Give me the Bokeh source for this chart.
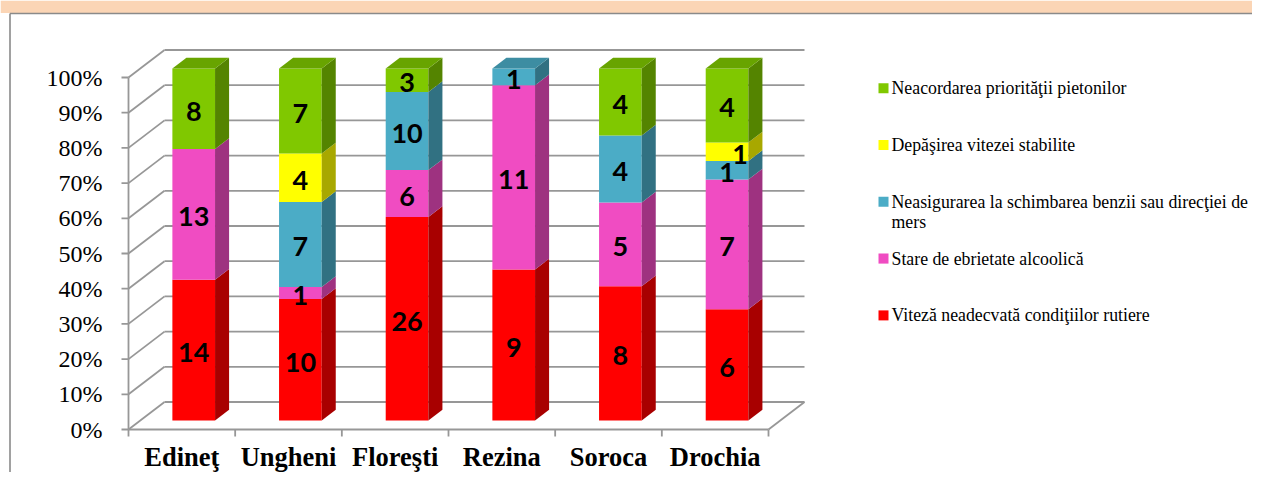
import textwrap
from bokeh.plotting import figure
from bokeh.models import Range1d, ColumnDataSource
from bokeh.core.properties import value
from bokeh.embed import file_html
from bokeh.resources import INLINE

# ---------------- data ----------------
categories = ["Edineţ", "Ungheni", "Floreşti", "Rezina", "Soroca", "Drochia"]
series_names = [
    "Viteză neadecvată condiţiilor rutiere",
    "Stare de ebrietate alcoolică",
    "Neasigurarea la schimbarea benzii sau direcţiei de mers",
    "Depăşirea vitezei stabilite",
    "Neacordarea priorităţii pietonilor",
]
viteza = [14, 10, 26, 9, 8, 6]
ebrietate = [13, 1, 6, 11, 5, 7]
neasigurare = [0, 7, 10, 1, 4, 1]
depasire = [0, 4, 0, 0, 0, 1]
pietoni = [8, 7, 3, 0, 4, 4]
y_ticks = [0, 10, 20, 30, 40, 50, 60, 70, 80, 90, 100]
tick_labels = [f"{t}%" for t in y_ticks]

series_values = [viteza, ebrietate, neasigurare, depasire, pietoni]
series_colors = ["#FF0000", "#F04CC2", "#4BACC6", "#FFFF00", "#80C800"]

# ---------------- layout / style constants ----------------
FIG_W, FIG_H = 1252, 472
X0_PX, PX_PER_CAT = 128.0, 640.0 / 6
Y0_PX, PX_PER_PCT = 429.0, 3.52
SERIF = value("Liberation Serif, 'Times New Roman', Tinos, 'DejaVu Serif', serif")


def px_x(X):
    return (X - X0_PX) / PX_PER_CAT


def px_y(Y):
    return (Y0_PX - Y) / PX_PER_PCT


DX = 36.0 / PX_PER_CAT      # full depth offset in category units
DY = 27.5 / PX_PER_PCT      # full depth offset in percent units
F0, F1 = 0.33, 0.72         # bar front / back depth fractions
BW = 0.40                   # bar width (category units)
GRID = "#979797"
GRID_W = 1.8


def shade(hexcol, k):
    h = hexcol.lstrip("#")
    r, g, b = (int(h[i:i + 2], 16) for i in (0, 2, 4))
    return "#%02x%02x%02x" % (int(r * k), int(g * k), int(b * k))


p = figure(width=FIG_W, height=FIG_H, output_backend="svg", toolbar_location=None,
           x_range=Range1d(px_x(0), px_x(FIG_W)),
           y_range=Range1d(px_y(FIG_H), px_y(0)),
           x_axis_location=None, y_axis_location=None, min_border=0)
p.min_border_left = p.min_border_right = p.min_border_top = p.min_border_bottom = 0
p.grid.visible = False
p.outline_line_color = None
p.background_fill_color = "white"
p.border_fill_color = "white"

# banner and outer box
p.quad(left=[px_x(0)], right=[px_x(FIG_W)], bottom=[px_y(12.5)], top=[px_y(0)],
       fill_color="#FBD5B5", line_color=None)
p.segment(x0=[px_x(9.5), px_x(9.5)], y0=[px_y(13), px_y(13)],
          x1=[px_x(FIG_W), px_x(9.5)], y1=[px_y(13), px_y(FIG_H)],
          line_color="#8A8A8A", line_width=1.6)

ncat = len(categories)
# walls
p.segment(x0=[0] * len(y_ticks), y0=y_ticks,
          x1=[DX] * len(y_ticks), y1=[t + DY for t in y_ticks],
          line_color=GRID, line_width=GRID_W)
p.segment(x0=[DX] * len(y_ticks), y0=[t + DY for t in y_ticks],
          x1=[ncat + DX] * len(y_ticks), y1=[t + DY for t in y_ticks],
          line_color=GRID, line_width=GRID_W)
# floor right edge, front axes
p.segment(x0=[ncat, 0, 0], y0=[0, 0, 0], x1=[ncat + DX, ncat, 0], y1=[DY, 0, y_ticks[-1]],
          line_color=GRID, line_width=GRID_W)
# ticks
tick_len_x = 7.0 / PX_PER_CAT
tick_len_y = 7.0 / PX_PER_PCT
p.segment(x0=[-tick_len_x] * len(y_ticks), y0=y_ticks, x1=[0] * len(y_ticks), y1=y_ticks,
          line_color=GRID, line_width=GRID_W)
bounds = list(range(ncat + 1))
p.segment(x0=bounds, y0=[0] * len(bounds), x1=bounds, y1=[-tick_len_y] * len(bounds),
          line_color=GRID, line_width=GRID_W)

# bars
front = dict(left=[], right=[], bottom=[], top=[], color=[])
sides = dict(xs=[], ys=[], color=[])
tops = dict(xs=[], ys=[], color=[])
labels = dict(x=[], y=[], text=[], xo=[])
LABEL_NUDGE = {(3, 5): 13}
for i in range(ncat):
    total = sum(s[i] for s in series_values)
    cum = 0
    last = None
    for k, s in enumerate(series_values):
        v = s[i]
        if v == 0:
            continue
        b = cum / total * 100
        t = (cum + v) / total * 100
        cum += v
        l0 = i + 0.5 - BW / 2 + F0 * DX
        r0 = l0 + BW
        r1 = r0 + (F1 - F0) * DX
        front["left"].append(l0)
        front["right"].append(r0)
        front["bottom"].append(b + F0 * DY)
        front["top"].append(t + F0 * DY)
        front["color"].append(series_colors[k])
        sides["xs"].append([r0, r1, r1, r0])
        sides["ys"].append([b + F0 * DY, b + F1 * DY, t + F1 * DY, t + F0 * DY])
        sides["color"].append(shade(series_colors[k], 0.66))
        labels["x"].append((l0 + r0) / 2)
        labels["y"].append((b + t) / 2 + F0 * DY)
        labels["text"].append(str(v))
        labels["xo"].append(LABEL_NUDGE.get((k, i), 0))
        last = (k, l0, r0, r1, t)
    k, l0, r0, r1, t = last
    l1 = l0 + (F1 - F0) * DX
    tops["xs"].append([l0, r0, r1, l1])
    tops["ys"].append([t + F0 * DY, t + F0 * DY, t + F1 * DY, t + F1 * DY])
    tops["color"].append(shade(series_colors[k], 0.82))

p.quad(source=ColumnDataSource(front), left="left", right="right", bottom="bottom", top="top",
       fill_color="color", line_color=None)
p.patches(source=ColumnDataSource(sides), xs="xs", ys="ys", fill_color="color", line_color=None)
p.patches(source=ColumnDataSource(tops), xs="xs", ys="ys", fill_color="color", line_color=None)

p.text(source=ColumnDataSource(labels), x="x", y="y", text="text", x_offset="xo",
       y_offset=2.5, text_align="center", text_baseline="middle",
       text_font=value("Lato"), text_font_style="bold", text_font_size="27px",
       text_color="black")

# y tick labels
p.text(x=[px_x(102)] * len(y_ticks), y=y_ticks, text=tick_labels,
       text_align="right", text_baseline="middle", text_font=SERIF,
       text_font_size="24px", text_color="black")
# category labels
p.text(x=[i + 0.5 for i in range(ncat)], y=[px_y(456.0)] * ncat, text=categories,
       text_align="center", text_baseline="middle", text_font=SERIF,
       text_font_style="bold", text_font_size="26.5px", text_color="black")

# legend (top to bottom: reverse stack order)
leg_mx, leg_tx = px_x(883), px_x(891)
leg = dict(x=[], y=[], color=[])
leg_txt = dict(x=[], y=[], text=[], yo=[])
for row, k in enumerate(reversed(range(len(series_names)))):
    yc = px_y(87.7 + row * 56.8)
    leg["x"].append(leg_mx)
    leg["y"].append(yc)
    leg["color"].append(series_colors[k])
    for ln, line in enumerate(textwrap.wrap(series_names[k], 50)):
        leg_txt["x"].append(leg_tx)
        leg_txt["y"].append(yc)
        leg_txt["text"].append(line)
        leg_txt["yo"].append(ln * 20.3)
p.scatter(source=ColumnDataSource(leg), x="x", y="y", marker="square", size=10,
          fill_color="color", line_color=None)
p.text(source=ColumnDataSource(leg_txt), x="x", y="y", text="text", y_offset="yo",
       text_align="left", text_baseline="middle", text_font=SERIF,
       text_font_size="17.8px", text_color="black")

open("out.html", "w").write(file_html(p, INLINE))
